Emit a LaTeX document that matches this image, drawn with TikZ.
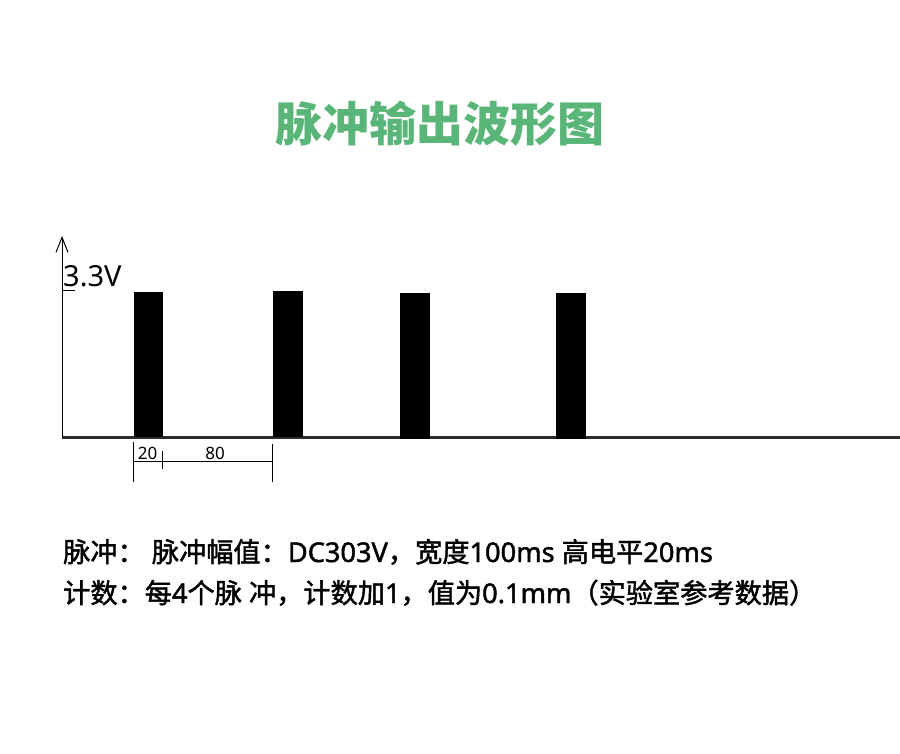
\documentclass[tikz,border=0pt]{standalone}
\usepackage{fontspec}
\setmainfont{Noto Sans}
\newfontfamily\cjk{Noto Sans CJK SC}
\newfontfamily\cjkm{Noto Sans CJK SC}[FakeBold=1.6]
\newfontfamily\latm{Noto Sans}[FakeBold=1.6]
\usetikzlibrary{arrows.meta}
\definecolor{titlegreen}{RGB}{90,182,120}
\definecolor{axisgray}{RGB}{45,45,45}
\newcommand\zh[1]{{\cjkm #1}}
\tikzset{
  bar/.style={fill=black,draw=none},
  dimline/.style={line width=1pt,black},
  txt/.style={inner sep=0pt,anchor=base west},
  dimtxt/.style={inner sep=0pt,font=\fontsize{17}{20}\selectfont},
  notetxt/.style={txt,font=\fontsize{27.2}{32}\selectfont\latm},
}
\begin{document}
\begin{tikzpicture}[x=1pt,y=-1pt]
\useasboundingbox (0,0) rectangle (900,754);
% title
\node[inner sep=0pt,text=titlegreen,font=\fontsize{47}{56}\selectfont\cjk\bfseries] (title) at (440,124) {脉冲输出波形图};
% axes
\coordinate (origin) at (62,437);
\coordinate (ytop) at (62,236);
\coordinate (xend) at (900,437);
\draw[line width=3pt,axisgray] (origin) -- (xend);
\draw[line width=1pt,-{Straight Barb[length=15pt,width=12pt,line width=1pt]}] (origin) -- (ytop);
\coordinate (tickA) at (62,291);
\coordinate (tickB) at (75,291);
\draw[line width=1pt] (tickA) -- (tickB);
\node[txt,font=\fontsize{29}{34}\selectfont] (vlabel) at (63,287) {3.3V};
% pulses
\fill[bar] (134,292) rectangle (163,437);
\fill[bar] (273,291) rectangle (303,437);
\fill[bar] (400,293) rectangle (430,439);
\fill[bar] (556,293) rectangle (586,439);
% dimensions
\coordinate (d1t) at (133,442); \coordinate (d1b) at (133,482);
\coordinate (d2t) at (162,451); \coordinate (d2b) at (162,469);
\coordinate (d3t) at (272,444); \coordinate (d3b) at (272,482);
\coordinate (hl) at (133,461); \coordinate (hr) at (272,461);
\draw[dimline] (d1t) -- (d1b);
\draw[dimline] (d2t) -- (d2b);
\draw[dimline] (d3t) -- (d3b);
\draw[dimline] (hl) -- (hr);
\node[dimtxt] (w20) at (147.5,453) {20};
\node[dimtxt] (w80) at (215,453) {80};
% notes
\node[notetxt] (note1) at (63,562)
  {\zh{脉冲：} \zh{脉冲幅值：}DC303V\zh{，宽度}100ms \zh{高电平}20ms};
\node[notetxt] (note2) at (63,603)
  {\zh{计数：每}4\zh{个脉} \zh{冲，计数加}1\zh{，值为}0.1mm\zh{（实验室参考数据）}};
\end{tikzpicture}
\end{document}
